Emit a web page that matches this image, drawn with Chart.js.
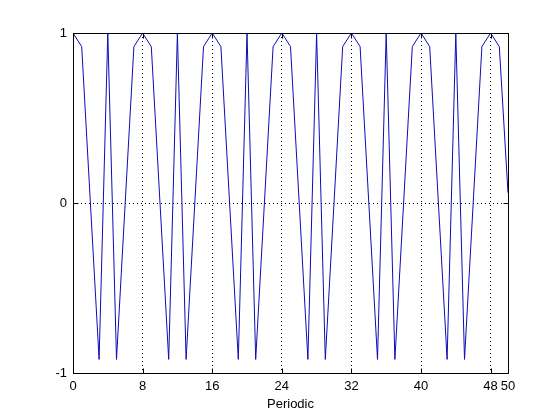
<!DOCTYPE html>
<html>
<head>
<meta charset="UTF-8">
<title>Periodic</title>
<script src="https://cdn.jsdelivr.net/npm/chart.js"></script>
<style>
    body { margin: 0; background: #ffffff; }
    #wrap { width: 560px; height: 420px; }
</style>
</head>
<body>
<div id="wrap"><canvas id="plot" width="560" height="420"></canvas></div>
<script>
// samples, n = 0..50
const xValues = [
    0, 1, 2, 3, 4, 5, 6, 7, 8, 9,
    10, 11, 12, 13, 14, 15, 16, 17, 18, 19,
    20, 21, 22, 23, 24, 25, 26, 27, 28, 29,
    30, 31, 32, 33, 34, 35, 36, 37, 38, 39,
    40, 41, 42, 43, 44, 45, 46, 47, 48, 49, 50
];
const yValues = [
    1, 0.92, 0, -0.92, 1, -0.92, 0, 0.92,
    1, 0.92, 0, -0.92, 1, -0.92, 0, 0.92,
    1, 0.92, 0, -0.92, 1, -0.92, 0, 0.92,
    1, 0.92, 0, -0.92, 1, -0.92, 0, 0.92,
    1, 0.92, 0, -0.92, 1, -0.92, 0, 0.92,
    1, 0.92, 0, -0.92, 1, -0.92, 0, 0.92,
    1, 0.92, 0.06
];
const xTicks = [0, 8, 16, 24, 32, 40, 48, 50];
const yTicks = [-1, 0, 1];
const xLabel = 'Periodic';

const font = { family: "'Liberation Sans', Arial, sans-serif", size: 13 };

// matlab style box with inward ticks
const boxPlugin = {
    id: 'box',
    afterDraw(chart) {
        const ctx = chart.ctx;
        const a = chart.chartArea;
        const xs = chart.scales.x, ys = chart.scales.y;
        const L = Math.round(a.left) + 0.5, R = Math.round(a.right) + 0.5;
        const T = Math.round(a.top) + 0.5, B = Math.round(a.bottom) + 0.5;
        ctx.save();
        ctx.strokeStyle = '#000';
        ctx.lineWidth = 1;
        ctx.setLineDash([]);
        ctx.beginPath();
        ctx.rect(L, T, R - L, B - T);
        xTicks.forEach(v => {
            const px = Math.round(xs.getPixelForValue(v)) + 0.5;
            ctx.moveTo(px, B); ctx.lineTo(px, B - 5);
            ctx.moveTo(px, T); ctx.lineTo(px, T + 5);
        });
        yTicks.forEach(v => {
            const py = Math.round(ys.getPixelForValue(v)) + 0.5;
            ctx.moveTo(L, py); ctx.lineTo(L + 5, py);
            ctx.moveTo(R, py); ctx.lineTo(R - 5, py);
        });
        ctx.stroke();
        ctx.restore();
    }
};

new Chart(document.getElementById('plot'), {
    type: 'line',
    data: {
        datasets: [{
            data: xValues.map((x, i) => ({ x: x, y: yValues[i] })),
            borderColor: '#0c0cb4',
            borderWidth: 1,
            pointRadius: 0,
            tension: 0,
            fill: false
        }]
    },
    options: {
        responsive: false,
        animation: false,
        layout: { padding: { left: 0, right: 52, top: 33, bottom: 0 } },
        plugins: { legend: { display: false }, tooltip: { enabled: false } },
        scales: {
            x: {
                type: 'linear',
                min: 0,
                max: 50,
                afterBuildTicks: s => { s.ticks = xTicks.map(v => ({ value: v })); },
                afterFit: s => { s.height = 47; },
                grid: { color: '#000', lineWidth: 1, drawTicks: false },
                border: { display: false, dash: [1, 3] },
                ticks: { autoSkip: false, maxRotation: 0, padding: 6, color: '#000', font: font },
                title: { display: true, text: xLabel, color: '#000', font: font, padding: { top: 0, bottom: 8 } }
            },
            y: {
                min: -1,
                max: 1,
                afterBuildTicks: s => { s.ticks = yTicks.map(v => ({ value: v })); },
                afterFit: s => { s.width = 73; },
                grid: { color: '#000', lineWidth: 1, drawTicks: false },
                border: { display: false, dash: [1, 3] },
                ticks: { padding: 6, color: '#000', font: font }
            }
        }
    },
    plugins: [boxPlugin]
});
</script>
</body>
</html>
